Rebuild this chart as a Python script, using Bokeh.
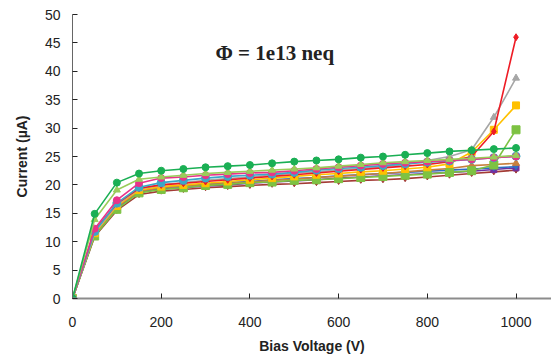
from bokeh.plotting import figure
from bokeh.models import Range1d, Label, FixedTicker
from bokeh.embed import file_html
from bokeh.resources import INLINE

voltage = [0, 50, 100, 150, 200, 250, 300, 350, 400, 450, 500,
           550, 600, 650, 700, 750, 800, 850, 900, 950, 1000]

green      = [0, 14.9, 20.4, 22.0, 22.5, 22.8, 23.1, 23.3, 23.5, 23.8, 24.1, 24.3, 24.5, 24.8, 25.0, 25.3, 25.6, 25.9, 26.1, 26.3, 26.5]
lightgreen = [0, 13.9, 19.1, 21.0, 21.4, 21.7, 22.0, 22.2, 22.4, 22.6, 22.8, 23.0, 23.3, 23.6, 23.9, 24.1, 24.3, 24.5, 24.7, 24.9, 25.2]
pink       = [0, 12.3, 17.3, 20.3, 21.2, 21.4, 21.7, 21.9, 22.1, 22.2, 22.5, 22.8, 23.1, 23.4, 23.7, 23.9, 24.1, 24.3, 24.5, 24.8, 25.0]
cyan       = [0, 11.8, 16.8, 19.6, 20.4, 20.8, 21.2, 21.5, 21.7, 21.9, 22.2, 22.6, 22.9, 23.1, 23.4, 23.7, 24.0, 24.2, 24.5, 24.8, 25.05]
gray       = [0, 11.6, 16.5, 19.3, 20.0, 20.4, 20.8, 21.1, 21.4, 21.7, 22.1, 22.3, 22.6, 22.9, 23.2, 23.6, 24.3, 25.0, 26.2, 31.9, 38.8]
red        = [0, 12.0, 16.7, 19.4, 20.0, 20.3, 20.6, 20.9, 21.2, 21.5, 21.8, 22.1, 22.4, 22.7, 23.0, 23.3, 23.6, 24.1, 25.0, 29.4, 46.0]
yellow     = [0, 11.5, 16.3, 19.1, 19.7, 20.0, 20.3, 20.6, 20.9, 21.2, 21.5, 21.8, 22.0, 22.3, 22.5, 22.8, 23.1, 23.7, 25.8, 29.7, 34.0]
brown      = [0, 11.4, 16.1, 18.9, 19.5, 19.8, 20.0, 20.3, 20.5, 20.8, 21.0, 21.3, 21.5, 21.8, 22.0, 22.3, 22.6, 22.9, 23.4, 23.6, 23.8]
blue       = [0, 11.3, 16.0, 18.8, 19.5, 19.8, 20.1, 20.4, 20.6, 20.9, 21.1, 21.3, 21.6, 21.8, 22.0, 22.2, 22.4, 22.6, 22.8, 23.0, 23.2]
purple     = [0, 11.2, 15.9, 18.7, 19.3, 19.5, 19.8, 20.0, 20.3, 20.5, 20.7, 20.9, 21.2, 21.4, 21.6, 21.8, 22.0, 22.2, 22.4, 22.7, 23.0]
lime       = [0, 11.0, 15.7, 18.6, 19.2, 19.5, 19.9, 20.1, 20.4, 20.5, 20.8, 20.9, 21.1, 21.3, 21.5, 21.7, 21.9, 22.2, 22.5, 23.5, 29.7]
maroon     = [0, 10.9, 15.5, 18.3, 18.9, 19.2, 19.5, 19.7, 19.9, 20.1, 20.2, 20.4, 20.6, 20.8, 20.9, 21.1, 21.4, 21.7, 22.0, 22.3, 22.6]

x_ticks = [0, 200, 400, 600, 800, 1000]
y_ticks = [0, 5, 10, 15, 20, 25, 30, 35, 40, 45, 50]

series = [
    (maroon,     "#A33B35", "diamond",  6),
    (purple,     "#7030A0", "square",   6),
    (blue,       "#2F6DC2", "diamond",  6),
    (brown,      "#C8803E", "triangle", 7),
    (lime,       "#7DC242", "square",   8),
    (yellow,     "#FFC000", "square",   7),
    (gray,       "#A6A6A6", "triangle", 7),
    (red,        "#EE1C25", "diamond",  7),
    (cyan,       "#3BA7C9", "circle",   8),
    (pink,       "#E8338A", "circle",   7),
    (lightgreen, "#9ACD5A", "triangle", 7),
    (green,      "#1AAF54", "circle",   7),
]

p = figure(width=551, height=356, output_backend="svg", toolbar_location=None,
           x_range=Range1d(0, 1080), y_range=Range1d(0, 50),
           min_border_left=72, min_border_right=0, min_border_top=14, min_border_bottom=58)
p.outline_line_color = None
p.xgrid.grid_line_color = None
p.ygrid.grid_line_color = None
p.background_fill_color = "white"

for vals, col, mk, sz in series:
    p.line(voltage, vals, line_color=col, line_width=1.6)
    p.scatter(voltage, vals, marker=mk, size=sz, fill_color=col, line_color=col)

p.xaxis.ticker = FixedTicker(ticks=x_ticks)
p.yaxis.ticker = FixedTicker(ticks=y_ticks)
for ax in (p.xaxis[0], p.yaxis[0]):
    ax.major_tick_in = 5
    ax.major_tick_out = 0
    ax.minor_tick_in = 0
    ax.minor_tick_out = 0
    ax.major_label_text_font = "Liberation Sans"
    ax.major_label_text_font_size = "14px"
    ax.major_label_text_color = "#222222"
    ax.axis_label_text_font = "Liberation Sans"
    ax.axis_label_text_font_style = "bold"
    ax.axis_label_text_font_size = "14px"
    ax.axis_label_text_color = "#222222"
    ax.major_tick_line_color = "#222222"

p.xaxis.axis_label = "Bias Voltage (V)"
p.yaxis.axis_label = "Current (µA)"
p.xaxis.axis_line_color = "#8C8C8C"
p.xaxis.axis_line_width = 2
p.yaxis.axis_line_color = "#666666"
p.yaxis.axis_line_width = 1
p.xaxis.major_label_standoff = 18
p.yaxis.major_label_standoff = 12
p.xaxis.axis_label_standoff = 8
p.yaxis.axis_label_standoff = 12

p.add_layout(Label(x=456, y=43.2, text="Φ = 1e13 neq", text_font="Liberation Serif",
                   text_font_style="bold", text_font_size="21px", text_color="#222222",
                   text_align="center", text_baseline="middle"))

open("out.html", "w").write(file_html(p, INLINE))
